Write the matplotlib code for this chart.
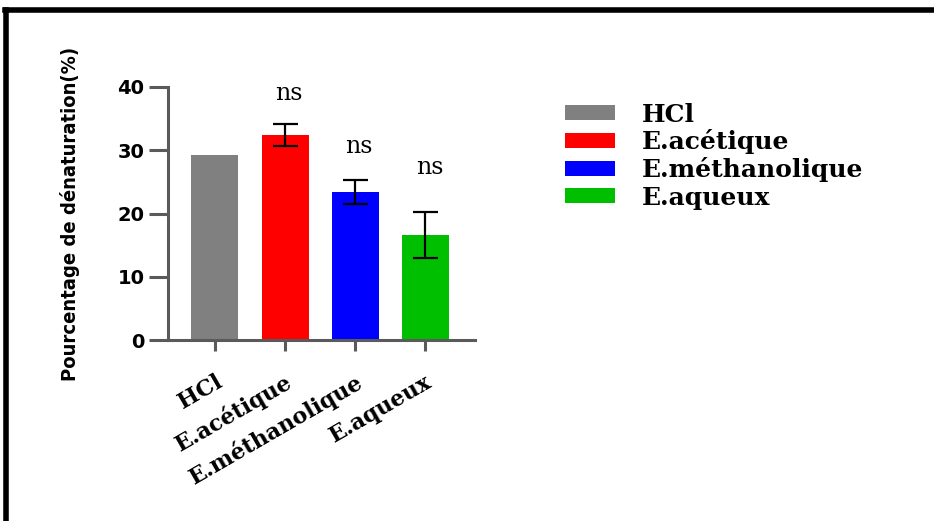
import matplotlib.pyplot as plt
from matplotlib.patches import Patch
from matplotlib.lines import Line2D

groups = ["HCl", "E.acétique", "E.méthanolique", "E.aqueux"]
means = [29.2, 32.4, 23.4, 16.6]
errors = [0.0, 1.7, 1.95, 3.6]
colors = ["#808080", "#ff0000", "#0000ff", "#00bf00"]
signif = ["", "ns", "ns", "ns"]
yticks = [0, 10, 20, 30, 40]

fig = plt.figure(figsize=(9.34, 5.21), dpi=100)
ax = fig.add_axes([168 / 934, 1 - 340 / 521, (475 - 168) / 934, (340 - 87) / 521])

x = list(range(len(groups)))
ax.bar(x, means, width=0.67, color=colors, zorder=2)
for xi, m, e in zip(x, means, errors):
    if e > 0:
        ax.errorbar(xi, m, yerr=e, color="black", capsize=9, capthick=1.6,
                    elinewidth=1.6, zorder=3)

# "ns" marks above the extract bars
ns_y = [None, 39.0, 30.6, 27.3]
for xi, s, yy in zip(x, signif, ns_y):
    if s:
        ax.text(xi + 0.06, yy, s, ha="center", va="center",
                family="DejaVu Serif", fontsize=17)

ax.set_xlim(-0.67, 3.71)
ax.set_ylim(0, 40)
ax.set_yticks(yticks)
ax.set_yticklabels([str(t) for t in yticks], family="DejaVu Sans",
                   fontweight="bold", fontsize=14)
ax.set_xticks(x)
ax.set_xticklabels(groups, rotation=30, ha="right", rotation_mode="anchor",
                   family="DejaVu Serif", fontweight="bold", fontsize=16)

for side in ["top", "right"]:
    ax.spines[side].set_visible(False)
for side in ["left", "bottom"]:
    ax.spines[side].set_color("#5a5a5a")
    ax.spines[side].set_linewidth(2.2)
ax.tick_params(axis="y", direction="out", length=14, width=2.2,
               color="#5a5a5a", pad=3)
ax.tick_params(axis="x", direction="out", length=8, width=2.2,
               color="#5a5a5a", pad=14)

ax.set_ylabel("Pourcentage de dénaturation(%)",
              family=["DejaVu Sans Condensed", "Liberation Sans Narrow",
                      "DejaVu Sans"],
              fontweight="bold", fontstretch="condensed", fontsize=14.5,
              labelpad=27)

handles = [Patch(facecolor=c, edgecolor="none") for c in colors]
leg = fig.legend(handles, groups, loc="upper left",
                 bbox_to_anchor=(542 / 934, 1 - 80 / 521), frameon=False,
                 prop={"family": "DejaVu Serif", "weight": "bold", "size": 18},
                 handlelength=2.0, handleheight=0.55, labelspacing=0.12,
                 handletextpad=1.1)

# outer frame lines along top and left
fig.add_artist(Line2D([5 / 934, 1], [1 - 9.5 / 521, 1 - 9.5 / 521],
                      transform=fig.transFigure, color="black", linewidth=4))
fig.add_artist(Line2D([5.5 / 934, 5.5 / 934], [0, 1 - 9.5 / 521],
                      transform=fig.transFigure, color="black", linewidth=4))

fig.savefig("out.png", dpi=100)
